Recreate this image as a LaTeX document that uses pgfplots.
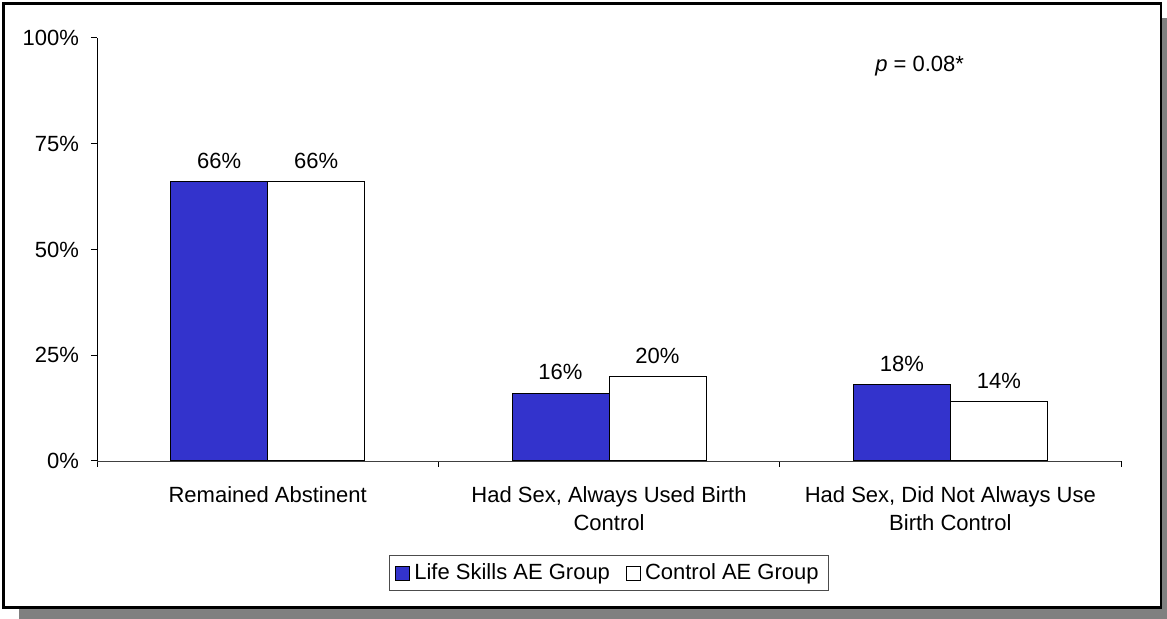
\documentclass[border=0pt]{standalone}
\usepackage{pgfplots}
\pgfplotsset{compat=1.18}
\usepackage{fontspec}
\setmainfont{Liberation Sans}
\definecolor{lsblue}{HTML}{3333CC}
\definecolor{shadowgray}{HTML}{808080}

\begin{document}
\begin{tikzpicture}[font=\fontsize{11}{13}\selectfont]
  % page frame with drop shadow (units: 0.5pt)
  \begin{scope}[x=0.5pt,y=-0.5pt]
    \useasboundingbox (0,0) rectangle (1167,619);
    \clip (0,0) rectangle (1167,619);
    \fill[shadowgray] (19,18) rectangle (1185,635);
    \fill[white] (3,3) rectangle (1161,608);
    \draw[line width=1.1pt] (3.5,3.5) rectangle (1161,607.5);
  \end{scope}
  \begin{axis}[
    at={(48.5pt,-230.5pt)}, anchor=south west,
    scale only axis, width=512pt, height=211.5pt,
    xmin=-0.5, xmax=2.5, ymin=0, ymax=100,
    axis x line*=bottom, axis y line*=left,
    x axis line style={black!75},
    tick align=outside, major tick length=3pt,
    tick style={black, line width=0.5pt},
    ytick={0,25,50,75,100},
    yticklabel={\pgfmathprintnumber{\tick}\%},
    /pgf/number format/assume math mode=true,
    yticklabel style={xshift=-2.5pt},
    xtick={-0.5,0.5,1.5,2.5},
    x tick label as interval,
    xticklabels={{Remained Abstinent},{Had Sex, Always Used Birth\\Control},{Had Sex, Did Not Always Use\\Birth Control}},
    xticklabel style={align=center, yshift=-6pt, font=\fontsize{11}{14}\selectfont},
    ticklabel style={font=\fontsize{11}{14}\selectfont},
    ybar=0pt, bar width=48.5pt,
    nodes near coords={\pgfmathprintnumber{\pgfplotspointmeta}\%},
    nodes near coords style={font=\fontsize{11}{13}\selectfont, yshift=3pt},
    legend style={at={(0.5,-0.265)}, anchor=center, legend columns=2,
      draw=black!70, font=\fontsize{11}{13}\selectfont,
      /tikz/every even column/.append style={column sep=6pt}},
    legend image code/.code={\draw[#1] (0pt,-3.5pt) rectangle (7pt,3.5pt);},
  ]
    \addplot[fill=lsblue, draw=black, line width=0.5pt] coordinates {(0,66) (1,16) (2,18)};
    \addplot[fill=white, draw=black, line width=0.5pt] coordinates {(0,66) (1,20) (2,14)};
    \legend{Life Skills AE Group, Control AE Group}
    \node at (axis cs:1.91,93.4) {\textit{p} = 0.08*};
  \end{axis}
\end{tikzpicture}
\end{document}
